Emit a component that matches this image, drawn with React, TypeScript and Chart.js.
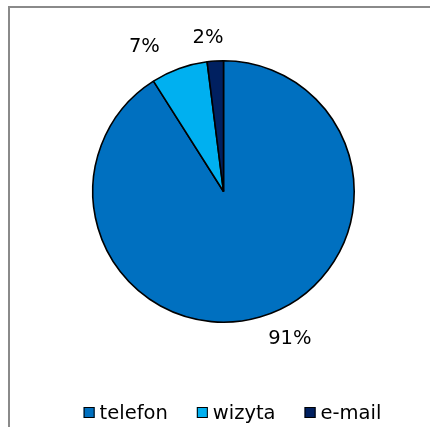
import React, { useEffect, useRef } from "react";
import { Chart, registerables } from "chart.js";

Chart.register(...registerables);

const categories = ["telefon", "wizyta", "e-mail"];
const values = [91, 7, 2];
const colors = ["#0070C0", "#00B0F0", "#002060"];
const percentLabels = ["91%", "7%", "2%"];

const FONT = '19.5px "DejaVu Sans", Verdana, sans-serif';

const framePlugin = {
  id: "frame",
  beforeDraw(chart: any) {
    const ctx = chart.ctx;
    ctx.save();
    ctx.fillStyle = "#ffffff";
    ctx.fillRect(0, 0, chart.width, chart.height);
    ctx.strokeStyle = "#8a8a8a";
    ctx.lineWidth = 2;
    ctx.strokeRect(9, 7, chart.width + 20, chart.height + 20);
    ctx.restore();
  },
};

const labelPlugin = {
  id: "pieLabels",
  afterDatasetsDraw(chart: any) {
    const ctx = chart.ctx;
    const meta = chart.getDatasetMeta(0);
    ctx.save();
    ctx.font = FONT;
    ctx.fillStyle = "#000000";
    ctx.textAlign = "center";
    ctx.textBaseline = "middle";
    meta.data.forEach((arc: any, i: number) => {
      const { x, y, startAngle, endAngle, outerRadius } = arc.getProps(
        ["x", "y", "startAngle", "endAngle", "outerRadius"],
        true
      );
      const mid = (startAngle + endAngle) / 2;
      const dx = Math.cos(mid);
      const dy = Math.sin(mid);
      const px = x + dx * outerRadius;
      const py = y + dy * outerRadius;
      const lx = px + dx * 100 + (dx > 0 ? 2 : -1);
      const ly = py + dy * 23;
      ctx.fillText(percentLabels[i], lx, ly);
    });
    ctx.restore();
  },
};

const legendPlugin = {
  id: "customLegend",
  afterDraw(chart: any) {
    const ctx = chart.ctx;
    const labels: string[] = chart.data.labels;
    const bg: string[] = chart.data.datasets[0].backgroundColor;
    ctx.save();
    ctx.font = FONT;
    const box = 11;
    const boxGap = 5;
    const itemGap = 29;
    const widths = labels.map((l) => box + boxGap + ctx.measureText(l).width);
    const total = widths.reduce((a, b) => a + b, 0) + itemGap * (labels.length - 1);
    let x = 232.5 - total / 2;
    const cy = 412.5;
    labels.forEach((l, i) => {
      ctx.fillStyle = bg[i];
      ctx.fillRect(x, cy - box / 2, box, box);
      ctx.strokeStyle = "#000000";
      ctx.lineWidth = 1;
      ctx.strokeRect(x + 0.5, cy - box / 2 + 0.5, box - 1, box - 1);
      ctx.fillStyle = "#000000";
      ctx.textAlign = "left";
      ctx.textBaseline = "middle";
      ctx.fillText(l, x + box + boxGap, cy + 1);
      x += widths[i] + itemGap;
    });
    ctx.restore();
  },
};

export default function App() {
  const ref = useRef<HTMLCanvasElement>(null);
  useEffect(() => {
    document.body.style.margin = "0";
    const chart = new Chart(ref.current!, {
      type: "pie",
      data: {
        labels: categories,
        datasets: [
          {
            data: values,
            backgroundColor: colors,
            borderColor: "#000000",
            borderWidth: 1.6,
          },
        ],
      },
      options: {
        responsive: false,
        animation: false,
        layout: { padding: { left: 92, right: 75, top: 59, bottom: 103 } },
        plugins: {
          legend: { display: false },
          tooltip: { enabled: false },
        },
      },
      plugins: [framePlugin, labelPlugin, legendPlugin],
    });
    return () => chart.destroy();
  }, []);
  return <canvas ref={ref} width={430} height={427} style={{ display: "block" }} />;
}
